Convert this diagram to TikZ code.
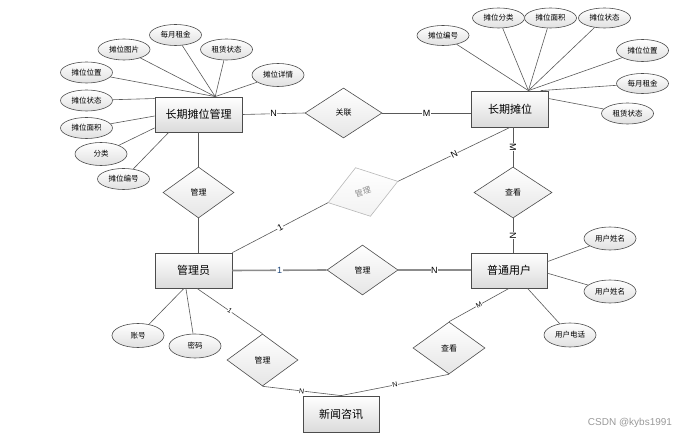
\documentclass[tikz,border=0pt]{standalone}
\usepackage{fontspec}
\setmainfont{Liberation Sans}
\newfontfamily\cjk{Noto Sans CJK SC}
\usetikzlibrary{shapes.geometric}
\definecolor{lblue}{RGB}{31,73,125}
\begin{document}
\begin{tikzpicture}[x=1pt,y=-1pt,
 ent/.style={draw=black!70, line width=0.8pt, top color=white, bottom color=black!14, minimum width=77pt, minimum height=35pt, inner sep=0pt, font=\cjk\fontsize{11}{12}\selectfont},
 attr/.style={ellipse, draw=black!70, line width=0.6pt, top color=white, bottom color=black!12, minimum width=52pt, minimum height=21pt, inner sep=0pt, font=\cjk\fontsize{7.5}{9}\selectfont},
 rel/.style={diamond, draw=black!70, line width=0.6pt, top color=white, bottom color=black!10, minimum width=71pt, minimum height=51pt, inner sep=0pt, font=\cjk\fontsize{8}{9}\selectfont},
 ln/.style={draw=black!65, line width=0.6pt},
 thick ln/.style={draw=black!45, line width=1.6pt},
 lab/.style={fill=white, inner sep=0.6pt, font=\fontsize{9}{10}\selectfont},
 slab/.style={fill=white, inner sep=0.4pt, font=\fontsize{7}{8}\selectfont, sloped},
]
\useasboundingbox (0,0) rectangle (690,438);

% entities
\node[ent, minimum width=87pt] (b1) at (198.5,114.5) {长期摊位管理};
\node[ent, minimum height=36pt] (b2) at (510,109) {长期摊位};
\node[ent] (b3) at (193.5,270.5) {管理员};
\node[ent, minimum width=76pt] (b4) at (509,270.5) {普通用户};
\node[ent, minimum width=76pt, minimum height=36pt] (b5) at (341,414) {新闻咨讯};

% relationships
\node[rel, minimum width=77pt, minimum height=50pt] (r1) at (343.5,113) {关联};
\node[rel] (r2) at (198.5,192.5) {管理};
\node[rel, rotate=17, minimum width=73pt, draw=black!28, text=black!45, bottom color=black!5] (gd) at (363,192) {管理};
\node[rel, minimum height=50pt] (r3) at (362.5,270) {管理};
\node[rel, minimum width=78pt] (r6) at (513,192.5) {查看};
\node[rel, minimum height=52pt] (r4) at (262.5,360) {管理};
\node[rel, minimum width=72pt, minimum height=52pt] (r5) at (449,348) {查看};

% attributes of 长期摊位管理
\node[attr] (a1) at (175.5,35) {每月租金};
\node[attr] (a2) at (124,49.5) {摊位图片};
\node[attr] (a3) at (226.5,49.5) {租赁状态};
\node[attr, minimum height=23pt] (a4) at (278,75) {摊位详情};
\node[attr] (a5) at (86.5,72.5) {摊位位置};
\node[attr] (a6) at (86.5,100.5) {摊位状态};
\node[attr] (a7) at (86.5,128) {摊位面积};
\node[attr, minimum height=23pt] (a8) at (101,154) {分类};
\node[attr] (a9) at (123.5,179) {摊位编号};

% attributes of 长期摊位
\node[attr, minimum height=20pt] (p1) at (443,35.5) {摊位编号};
\node[attr, minimum height=20pt] (p2) at (498.5,18) {摊位分类};
\node[attr, minimum height=20pt] (p3) at (550.5,18) {摊位面积};
\node[attr, minimum height=20pt] (p4) at (604.5,18) {摊位状态};
\node[attr, minimum height=22pt] (p5) at (642.5,50.5) {摊位位置};
\node[attr, minimum height=20pt] (p6) at (642.5,83.5) {每月租金};
\node[attr] (p7) at (627.5,113.5) {租赁状态};

% attributes of 普通用户
\node[attr, minimum height=23pt] (u1) at (610,238.5) {用户姓名};
\node[attr, minimum height=23pt] (u2) at (610,291.5) {用户姓名};
\node[attr, minimum height=24pt] (u3) at (570,335) {用户电话};

% attributes of 管理员
\node[attr, minimum height=24pt] (m1) at (138,335.5) {账号};
\node[attr, minimum height=24pt] (m2) at (195,346) {密码};

% convergence points
\coordinate (c1) at (b1.47);
\coordinate (c2) at (b2.45);

% attribute lines
\foreach \e in {a1,a2,a3,a4,a5} \draw[ln] (\e) -- (c1);
\draw[ln] (a6) -- (b1.160);
\draw[ln] (a7) -- (b1.182);
\draw[ln] (a8) -- (b1.197);
\draw[ln] (a9) -- (b1.211);
\foreach \e in {p1,p2,p3,p4,p5} \draw[ln] (\e) -- (c2);
\draw[ln] (p6) -- (b2.31);
\draw[ln] (p7) -- (b2.15);
\draw[ln] (u1) -- (b4.13);
\draw[ln] (u2) -- (b4.-4);
\draw[ln] (u3) -- (b4.-44);
\draw[ln] (m1) -- (b3.-118);
\draw[ln] (m2) -- (b3.-113);

% relationship lines
\draw[ln] (b1.east) -- node[lab]{N} (r1.west);
\draw[ln] (r1.east) -- node[lab]{M} (r1.east -| b2.west);
\draw[ln] (b1.south -| r2.north) -- (r2.north);
\draw[ln] (r2.south) -- (r2.south |- b3.north);
\draw[ln] (b3.north east) -- node[lab, sloped]{1} (gd.west);
\draw[ln] (gd.east) -- node[lab, sloped]{N} (b2.south);
\draw[ln] (r6.north |- b2.south) -- node[lab, rotate=-90]{M} (r6.north);
\draw[ln] (r6.south) -- node[lab, rotate=-90]{N} (r6.south |- b4.north);
\draw[thick ln] (b3.east) -- node[lab, text=lblue]{1} (r3.west);
\draw[thick ln] (r3.east) -- node[lab]{N} (r3.east -| b4.west);
\draw[ln] (b3.-79) -- node[slab]{1} (r4.north);
\draw[ln] (r4.south) -- node[slab]{N} (b5.north);
\draw[ln] (b4.south) -- node[slab]{M} (r5.north);
\draw[ln] (r5.south) -- node[slab]{N} (b5.north);

% watermark
\node[text=black!40, font=\fontsize{10}{11}\selectfont] (wm) at (630,423) {CSDN @kybs1991};
\end{tikzpicture}
\end{document}
